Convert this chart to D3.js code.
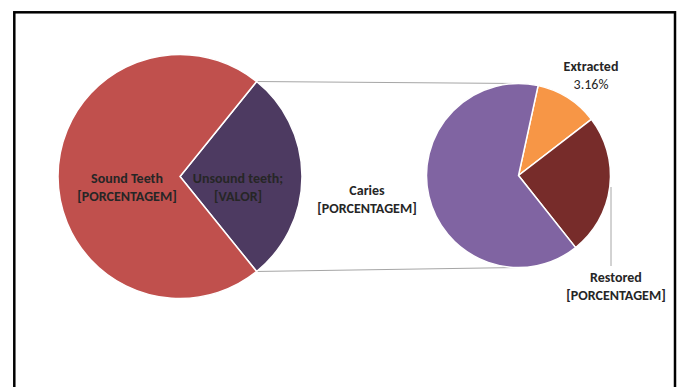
<!DOCTYPE html>
<html>
<head>
<meta charset="utf-8">
<script src="https://cdn.jsdelivr.net/npm/d3@7"></script>
<style>
  html, body { margin: 0; padding: 0; background: #fff; }
  svg { display: block; }
  .lbl { font-family: Carlito, Calibri, "Liberation Sans", Arial, sans-serif; fill: #262626; }
</style>
</head>
<body>
<script>
// primary pie
const mainCategories = ["Unsound teeth", "Sound Teeth"];
const mainValues = [28.4, 71.6];
const mainLabels = [["Unsound teeth;", "[VALOR]"], ["Sound Teeth", "[PORCENTAGEM]"]];
const mainColors = ["#4d3a61", "#c0504d"];

// secondary pie (breakdown of unsound teeth)
const subCategories = ["Extracted", "Restored", "Caries"];
const subValues = [3.16, 7.04, 18.2];
const subLabels = [["Extracted", "3.16%"], ["Restored", "[PORCENTAGEM]"], ["Caries", "[PORCENTAGEM]"]];
const subColors = ["#f79646", "#772c2a", "#8064a2"];

const W = 681, H = 387;
const svg = d3.select("body").append("svg")
    .attr("width", W)
    .attr("height", H);

svg.append("rect")
    .attr("x", 14.3).attr("y", 12.3)
    .attr("width", 660.7).attr("height", 400)
    .attr("fill", "none")
    .attr("stroke", "#000")
    .attr("stroke-width", 2.5);

const c1 = {x: 180, y: 176.5, r: 122};
const c2 = {x: 518.5, y: 175.5, r: 92};

// main pie, unsound slice centred on the right
const mainTotal = d3.sum(mainValues);
const unsoundAngle = mainValues[0] / mainTotal * 2 * Math.PI;
const mainPie = d3.pie().sort(null)
    .startAngle(Math.PI / 2 - unsoundAngle / 2)
    .endAngle(Math.PI / 2 - unsoundAngle / 2 + 2 * Math.PI);
const mainArcs = mainPie(mainValues);
const arc1 = d3.arc().innerRadius(0).outerRadius(c1.r);

const subPie = d3.pie().sort(null)
    .startAngle(12.3 * Math.PI / 180)
    .endAngle(12.3 * Math.PI / 180 + 2 * Math.PI);
const subArcs = subPie(subValues);
const arc2 = d3.arc().innerRadius(0).outerRadius(c2.r);

// connector lines
const a0 = mainArcs[0].startAngle, a1 = mainArcs[0].endAngle;
const conn = [
    [[c1.x + c1.r * Math.sin(a0), c1.y - c1.r * Math.cos(a0)], [c2.x, c2.y - c2.r]],
    [[c1.x + c1.r * Math.sin(a1), c1.y - c1.r * Math.cos(a1)], [c2.x, c2.y + c2.r]]
];
svg.selectAll(".conn")
    .data(conn)
    .enter().append("line")
    .attr("class", "conn")
    .attr("x1", d => d[0][0]).attr("y1", d => d[0][1])
    .attr("x2", d => d[1][0]).attr("y2", d => d[1][1])
    .attr("stroke", "#a6a6a6")
    .attr("stroke-width", 1);

const g1 = svg.append("g").attr("transform", `translate(${c1.x},${c1.y})`);
g1.selectAll("path")
    .data(mainArcs)
    .enter().append("path")
    .attr("d", arc1)
    .attr("fill", (d, i) => mainColors[i])
    .attr("stroke", "#fff")
    .attr("stroke-width", 1.5);

const g2 = svg.append("g").attr("transform", `translate(${c2.x},${c2.y})`);
g2.selectAll("path")
    .data(subArcs)
    .enter().append("path")
    .attr("d", arc2)
    .attr("fill", (d, i) => subColors[i])
    .attr("stroke", "#fff")
    .attr("stroke-width", 1.5);

// leader line for Restored
svg.append("line")
    .attr("x1", 611).attr("y1", 187)
    .attr("x2", 611).attr("y2", 266)
    .attr("stroke", "#a6a6a6")
    .attr("stroke-width", 1);

function addLabel(lines, x, y, boldSecond) {
    const t = svg.append("text")
        .attr("class", "lbl")
        .attr("text-anchor", "middle")
        .attr("font-size", 14);
    lines.forEach((s, i) => {
        t.append("tspan")
            .attr("x", x)
            .attr("y", y + i * 18)
            .attr("font-weight", (i === 0 || boldSecond) ? "bold" : "normal")
            .text(s);
    });
}

addLabel(mainLabels[1], 127, 182.5, true);
addLabel(mainLabels[0], 238, 182.5, true);
addLabel(subLabels[2], 367, 195, true);
addLabel(subLabels[0], 591, 70.5, false);
addLabel(subLabels[1], 616, 282, true);
</script>
</body>
</html>
